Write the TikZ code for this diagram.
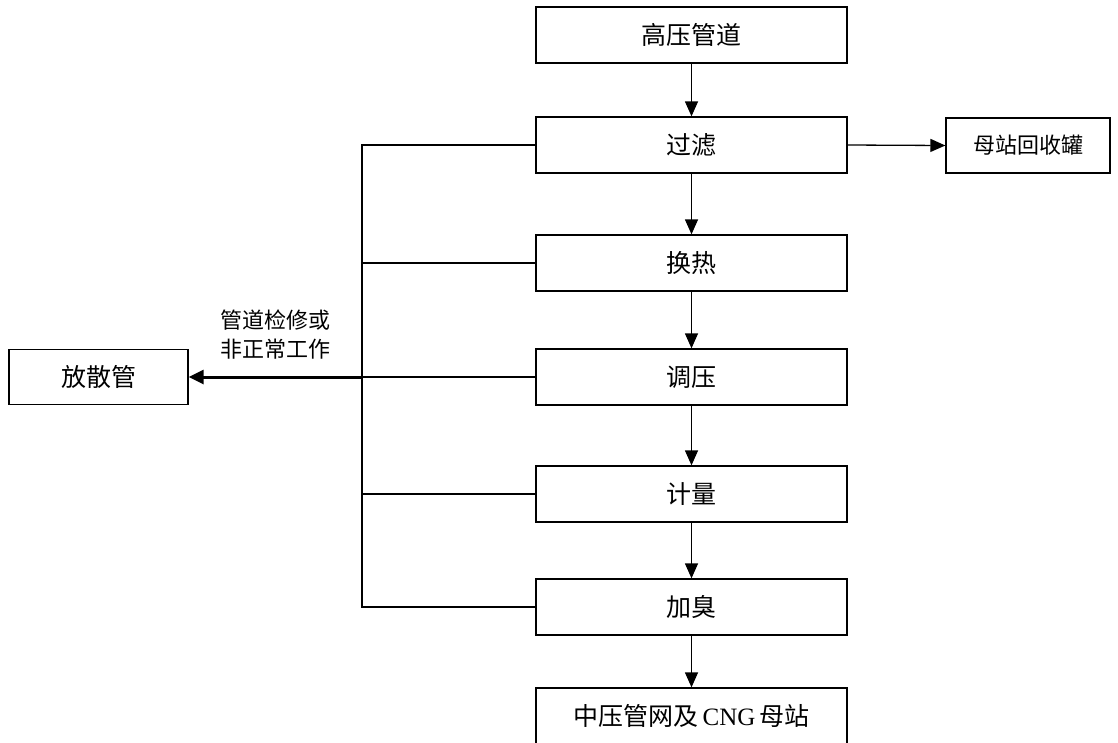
\documentclass[tikz,border=0pt]{standalone}
\usepackage{fontspec}
\setmainfont{Liberation Serif}
\newfontfamily\cjk{Noto Sans CJK SC}
\usetikzlibrary{arrows.meta}
\begin{document}
\begin{tikzpicture}[x=1pt,y=-1pt,
  box/.style={draw,line width=1.3pt,inner sep=0pt,minimum width=311pt,minimum height=56pt,font=\fontsize{25}{28}\selectfont\cjk},
  conn/.style={line width=1.3pt},
  arr/.style={line width=1.3pt,-{Triangle[length=15pt,width=13pt]}},
  thickarr/.style={line width=3pt,-{Triangle[length=15pt,width=14pt]}}]
\useasboundingbox (0,0) rectangle (1118,742);
\node[box] (A) at (691.5,35) {高压管道};
\node[box] (B) at (691.5,145) {过滤};
\node[box] (C) at (691.5,263) {换热};
\node[box] (D) at (691.5,377) {调压};
\node[box] (E) at (691.5,494) {计量};
\node[box] (F) at (691.5,607) {加臭};
\node[box] (G) at (691.5,716) {中压管网及\,{\rmfamily CNG}\,母站};
\node[box,minimum width=164pt,minimum height=55pt,font=\fontsize{22}{26}\selectfont\cjk] (R) at (1028,145.5) {母站回收罐};
\node[box,minimum width=179pt,minimum height=55pt] (P) at (98.5,377) {放散管};
\node[font=\fontsize{22}{29}\selectfont\cjk,align=center] (L) at (275,335) {管道检修或\\非正常工作};
\coordinate (vt) at (362,145);
\coordinate (vb) at (362,607);
\coordinate (J) at (362,377);
\draw[arr] (A) -- (B);
\draw[arr] (B) -- (C);
\draw[arr] (C) -- (D);
\draw[arr] (D) -- (E);
\draw[arr] (E) -- (F);
\draw[arr] (F) -- (G);
\draw[arr] (B.east) -- (R.west);
\draw[conn] (B.west) -- (vt) -- (vb) -- (F.west);
\draw[conn] (C.west) -- (C.west -| vt);
\draw[conn] (D.west) -- (J);
\draw[conn] (E.west) -- (E.west -| vt);
\draw[thickarr] (J) -- (P.east);
\end{tikzpicture}
\end{document}
